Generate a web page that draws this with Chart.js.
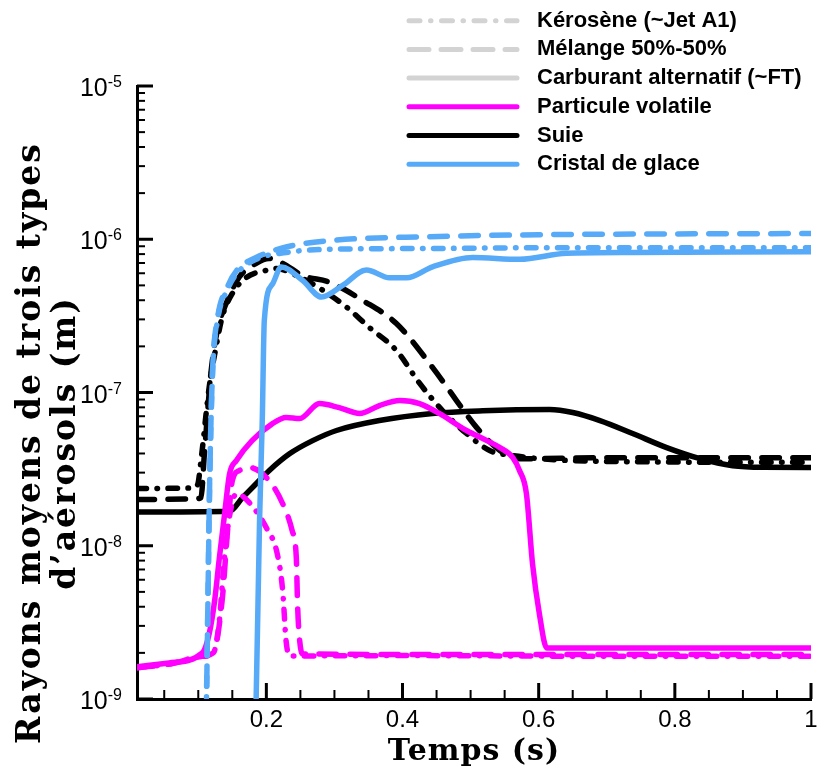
<!DOCTYPE html>
<html>
<head>
<meta charset="utf-8">
<script src="https://cdn.jsdelivr.net/npm/chart.js@4.4.1/dist/chart.umd.min.js"></script>
<style>
  html, body { margin: 0; padding: 0; background: #fff; }
</style>
</head>
<body>
<canvas id="chart" width="823" height="769"></canvas>
<script>
// temps (s) / rayon moyen (m), lus sur la figure
// particule volatile
const tVolKero = [0.01, 0.06, 0.106, 0.121, 0.131, 0.138, 0.146, 0.156, 0.175, 0.2, 0.216, 0.224, 0.229, 0.234, 0.4, 0.7, 1.0];
const rVolKero = [1.6e-9, 1.7e-9, 1.9e-9, 1.95e-9, 3.24e-9, 7.98e-9, 1.57e-8, 2.19e-8, 1.91e-8, 1.31e-8, 8.87e-9, 5.08e-9, 2.39e-9, 1.91e-9, 1.92e-9, 1.9e-9, 1.9e-9];
const tVolMix = [0.01, 0.06, 0.106, 0.122, 0.135, 0.143, 0.15, 0.16, 0.175, 0.204, 0.224, 0.238, 0.244, 0.246, 0.249, 0.253, 0.5, 1.0];
const rVolMix = [1.6e-9, 1.7e-9, 1.9e-9, 2.0e-9, 4.37e-9, 1.25e-8, 2.66e-8, 3.09e-8, 3.24e-8, 2.66e-8, 1.88e-8, 1.25e-8, 8.35e-9, 3.94e-9, 2.39e-9, 1.97e-9, 1.95e-9, 1.95e-9];
const tVolFT = [0.01, 0.057, 0.106, 0.116, 0.124, 0.131, 0.138, 0.146, 0.156, 0.179, 0.209, 0.229, 0.249, 0.278, 0.307, 0.337, 0.366, 0.396, 0.425, 0.454, 0.494, 0.524, 0.543, 0.562, 0.572, 0.582, 0.591, 0.601, 0.612, 0.8, 1.0];
const rVolFT = [1.62e-9, 1.72e-9, 2.0e-9, 2.66e-9, 4.37e-9, 8.35e-9, 1.52e-8, 2.95e-8, 3.6e-8, 4.85e-8, 6.26e-8, 6.87e-8, 6.76e-8, 8.47e-8, 7.97e-8, 7.3e-8, 8.22e-8, 8.87e-8, 8.47e-8, 7.3e-8, 5.65e-8, 4.85e-8, 4.37e-8, 3.76e-8, 3.09e-8, 2.19e-8, 7.6e-9, 3.6e-9, 2.15e-9, 2.15e-9, 2.15e-9];

// suie
const tSootKero = [0.01, 0.091, 0.099, 0.104, 0.116, 0.126, 0.135, 0.15, 0.171, 0.2, 0.215, 0.244, 0.278, 0.318, 0.351, 0.391, 0.425, 0.459, 0.494, 0.528, 0.557, 0.7, 1.0];
const rSootKero = [2.36e-8, 2.38e-8, 2.5e-8, 3.6e-8, 1.08e-7, 1.97e-7, 3.09e-7, 4.43e-7, 5.65e-7, 6.27e-7, 6.45e-7, 5.8e-7, 4.8e-7, 3.6e-7, 2.66e-7, 1.88e-7, 1.15e-7, 7.6e-8, 5.4e-8, 4.18e-8, 3.9e-8, 3.55e-8, 3.5e-8];
const tSootMix = [0.01, 0.094, 0.104, 0.109, 0.119, 0.128, 0.141, 0.16, 0.185, 0.204, 0.224, 0.253, 0.293, 0.341, 0.391, 0.444, 0.479, 0.509, 0.543, 0.572, 0.7, 1.0];
const rSootMix = [2.0e-8, 2.02e-8, 2.06e-8, 3.98e-8, 1.39e-7, 2.54e-7, 3.82e-7, 5.65e-7, 6.97e-7, 7.5e-7, 6.97e-7, 5.8e-7, 5.24e-7, 4.0e-7, 2.82e-7, 1.46e-7, 8.9e-8, 5.9e-8, 4.18e-8, 3.7e-8, 3.75e-8, 3.75e-8];
const tSootFT = [0.01, 0.146, 0.165, 0.185, 0.204, 0.234, 0.268, 0.303, 0.366, 0.444, 0.518, 0.616, 0.65, 0.69, 0.738, 0.788, 0.837, 0.885, 0.93, 1.0];
const rSootFT = [1.66e-8, 1.68e-8, 2.06e-8, 2.54e-8, 3.09e-8, 3.98e-8, 4.85e-8, 5.65e-8, 6.56e-8, 7.3e-8, 7.6e-8, 7.74e-8, 7.4e-8, 6.56e-8, 5.4e-8, 4.37e-8, 3.7e-8, 3.33e-8, 3.25e-8, 3.24e-8];

// cristal de glace
const tIceKero = [0.109, 0.112, 0.117, 0.121, 0.128, 0.143, 0.157, 0.185, 0.229, 0.293, 0.44, 0.6, 1.0];
const rIceKero = [3e-10, 1e-9, 3e-8, 1.35e-7, 2.9e-7, 4.7e-7, 6.0e-7, 7.4e-7, 8.2e-7, 8.6e-7, 8.7e-7, 8.8e-7, 8.8e-7];
const tIceMix = [0.109, 0.112, 0.117, 0.121, 0.128, 0.143, 0.157, 0.185, 0.229, 0.293, 0.44, 0.6, 1.0];
const rIceMix = [3e-10, 1e-9, 3e-8, 1.4e-7, 3e-7, 4.9e-7, 6.3e-7, 7.6e-7, 8.9e-7, 9.8e-7, 1.04e-6, 1.07e-6, 1.09e-6];
const tIceFT = [0.181, 0.185, 0.19, 0.194, 0.197, 0.209, 0.222, 0.253, 0.281, 0.312, 0.347, 0.381, 0.406, 0.444, 0.503, 0.572, 0.641, 0.738, 1.0];
const rIceFT = [3e-10, 1.0e-9, 1.45e-8, 6.6e-8, 2.95e-7, 5.1e-7, 6.6e-7, 5.4e-7, 4.2e-7, 5.0e-7, 6.3e-7, 5.6e-7, 5.6e-7, 6.6e-7, 7.6e-7, 7.4e-7, 8.1e-7, 8.2e-7, 8.3e-7];

const fuelLabels = ['Kérosène (~Jet A1)', 'Mélange 50%-50%', 'Carburant alternatif (~FT)'];
const aerosolLabels = ['Particule volatile', 'Suie', 'Cristal de glace'];
const aerosolColors = ['#ff00ff', '#000000', '#57aaf8'];
const fuelDashes = [[9.5, 10.5, 0.5, 10.5], [17.5, 13.5], []];
const legendDashes = [[11, 10.5, 0.5, 10.5], [20, 12], []];

const xMajorTicks = [0.2, 0.4, 0.6, 0.8, 1];
const xMinorTicks = [0.05, 0.1, 0.15, 0.25, 0.3, 0.35, 0.45, 0.5, 0.55, 0.65, 0.7, 0.75, 0.85, 0.9, 0.95];
const yExponents = [-9, -8, -7, -6, -5];

const xTitle = 'Temps (s)';
const yTitle = ['Rayons moyens de trois types', 'd\u2019aérosols (m)'];

function pts(t, r) {
  return t.map((v, i) => ({ x: v, y: r[i] }));
}

function ds(t, r, aero, fuel) {
  return {
    data: pts(t, r),
    borderColor: aerosolColors[aero],
    borderWidth: 5.5,
    borderDash: fuelDashes[fuel],
    borderCapStyle: 'round',
    borderJoinStyle: 'round',
    pointRadius: 0,
    cubicInterpolationMode: 'monotone',
    fill: false,
  };
}

const datasets = [
  ds(tIceFT, rIceFT, 2, 2),
  ds(tIceMix, rIceMix, 2, 1),
  ds(tIceKero, rIceKero, 2, 0),
  ds(tVolFT, rVolFT, 0, 2),
  ds(tVolMix, rVolMix, 0, 1),
  ds(tVolKero, rVolKero, 0, 0),
  ds(tSootFT, rSootFT, 1, 2),
  ds(tSootMix, rSootMix, 1, 1),
  ds(tSootKero, rSootKero, 1, 0),
];

function seg(ctx, x1, y1, x2, y2, w) {
  ctx.lineWidth = w;
  ctx.beginPath();
  ctx.moveTo(x1, y1);
  ctx.lineTo(x2, y2);
  ctx.stroke();
}

const axisDecor = {
  id: 'axisDecor',
  beforeDatasetsDraw(chart) {
    const { ctx, chartArea: a, scales: { x, y } } = chart;
    ctx.save();
    ctx.strokeStyle = '#000';
    ctx.fillStyle = '#000';
    ctx.lineCap = 'butt';

    // x ticks, pointing into the plot
    xMinorTicks.forEach((v) => {
      const px = x.getPixelForValue(v);
      seg(ctx, px, a.bottom, px, a.bottom - 9, 2);
    });
    xMajorTicks.forEach((v) => {
      const px = x.getPixelForValue(v);
      seg(ctx, px, a.bottom, px, a.bottom - 16, 3);
    });
    ctx.font = '24px "Liberation Sans", Arial, sans-serif';
    ctx.textAlign = 'center';
    ctx.textBaseline = 'alphabetic';
    xMajorTicks.forEach((v) => {
      ctx.fillText(String(v), x.getPixelForValue(v), a.bottom + 28);
    });

    // y ticks (log)
    yExponents.forEach((e, i) => {
      const py = y.getPixelForValue(Math.pow(10, e));
      seg(ctx, a.left, py, a.left + 16, py, 3);
      if (i < yExponents.length - 1) {
        for (let k = 2; k <= 9; k++) {
          const pm = y.getPixelForValue(k * Math.pow(10, e));
          seg(ctx, a.left, pm, a.left + 8, pm, 2);
        }
      }
      const sup = String(e);
      ctx.textAlign = 'left';
      ctx.font = '16px "Liberation Sans", Arial, sans-serif';
      const supW = ctx.measureText(sup).width;
      const right = a.left - 15;
      ctx.fillText(sup, right - supW, py + 1);
      ctx.font = '25px "Liberation Sans", Arial, sans-serif';
      ctx.textAlign = 'right';
      ctx.fillText('10', right - supW, py + 10);
    });

    // axis titles
    ctx.font = 'bold 30px "DejaVu Serif", serif';
    ctx.letterSpacing = '1px';
    ctx.textAlign = 'center';
    ctx.fillText(xTitle, (a.left + a.right) / 2, 760);

    ctx.font = 'bold 33px "DejaVu Serif", serif';
    ctx.letterSpacing = '2px';
    ctx.textBaseline = 'middle';
    const cy = 443;
    [31, 66].forEach((cx, i) => {
      ctx.save();
      ctx.translate(cx, cy);
      ctx.rotate(-Math.PI / 2);
      ctx.fillText(yTitle[i], 0, 0);
      ctx.restore();
    });
    ctx.letterSpacing = '0px';
    ctx.restore();
  },
  afterDraw(chart) {
    const { ctx } = chart;
    const rows = [];
    fuelLabels.forEach((l, i) => rows.push({ text: l, color: '#d3d3d3', dash: legendDashes[i] }));
    aerosolLabels.forEach((l, i) => rows.push({ text: l, color: aerosolColors[i], dash: [] }));
    ctx.save();
    ctx.lineCap = 'round';
    ctx.font = 'bold 22px "Liberation Sans", Arial, sans-serif';
    ctx.textAlign = 'left';
    ctx.textBaseline = 'middle';
    rows.forEach((r, i) => {
      const y = 20.7 + i * 28.7;
      ctx.strokeStyle = r.color;
      ctx.setLineDash(r.dash);
      seg(ctx, 409, y, 517, y, 5);
      ctx.setLineDash([]);
      ctx.fillStyle = '#000';
      ctx.fillText(r.text, 537, y);
    });
    ctx.restore();
  },
};

new Chart(document.getElementById('chart'), {
  type: 'line',
  data: { datasets },
  options: {
    responsive: false,
    animation: false,
    devicePixelRatio: 1,
    layout: { padding: { top: 86, right: 12, left: 0, bottom: 0 } },
    plugins: { legend: { display: false }, tooltip: { enabled: false }, title: { display: false } },
    scales: {
      x: {
        type: 'linear',
        min: 0.01,
        max: 1,
        ticks: { display: false },
        grid: { display: false },
        border: { display: true, color: '#000', width: 3 },
        afterFit(scale) { scale.height = 70; },
      },
      y: {
        type: 'logarithmic',
        min: 1e-9,
        max: 1e-5,
        ticks: { display: false },
        grid: { display: false },
        border: { display: true, color: '#000', width: 3 },
        afterFit(scale) { scale.width = 137; },
      },
    },
  },
  plugins: [axisDecor],
});
</script>
</body>
</html>
